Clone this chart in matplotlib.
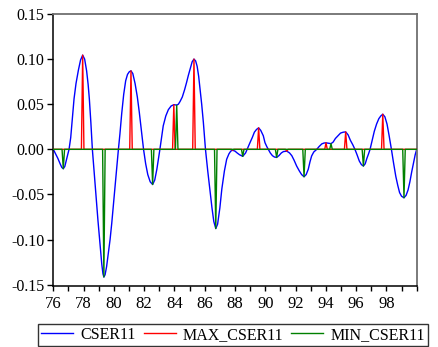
"""Recreate the CSER11 cycle chart with turning-point spikes."""

import matplotlib

matplotlib.use("Agg")
import matplotlib.pyplot as plt
from matplotlib.lines import Line2D
from matplotlib.ticker import FixedLocator, FuncFormatter, MultipleLocator

obs_dates = [
    1976.00, 1976.15, 1976.30, 1976.45, 1976.56, 1976.66, 1976.76, 1976.86, 1976.95, 1977.04,
    1977.15, 1977.26, 1977.37, 1977.50, 1977.66, 1977.80, 1977.94, 1978.07, 1978.20, 1978.30,
    1978.38, 1978.48, 1978.58, 1978.70, 1978.82, 1978.95, 1979.08, 1979.20, 1979.28, 1979.34,
    1979.42, 1979.52, 1979.63, 1979.75, 1979.86, 1979.96, 1980.06, 1980.16, 1980.30, 1980.40,
    1980.52, 1980.65, 1980.78, 1980.90, 1981.02, 1981.13, 1981.25, 1981.40, 1981.55, 1981.68,
    1981.82, 1981.96, 1982.10, 1982.24, 1982.40, 1982.56, 1982.70, 1982.84, 1982.95, 1983.04,
    1983.15, 1983.26, 1983.43, 1983.60, 1983.78, 1983.96, 1984.05, 1984.15, 1984.26, 1984.37,
    1984.52, 1984.67, 1984.80, 1984.92, 1985.05, 1985.17, 1985.29, 1985.40, 1985.50, 1985.60,
    1985.69, 1985.80, 1985.91, 1986.05, 1986.20, 1986.34, 1986.48, 1986.60, 1986.73, 1986.85,
    1987.00, 1987.13, 1987.30, 1987.45, 1987.60, 1987.72, 1987.84, 1988.00, 1988.14, 1988.30,
    1988.51, 1988.70, 1988.85, 1988.99, 1989.14, 1989.28, 1989.42, 1989.56, 1989.70, 1989.87,
    1989.98, 1990.10, 1990.20, 1990.33, 1990.47, 1990.60, 1990.75, 1990.90, 1991.06, 1991.20,
    1991.42, 1991.60, 1991.75, 1991.90, 1992.07, 1992.25, 1992.40, 1992.56, 1992.70, 1992.84,
    1992.95, 1993.06, 1993.20, 1993.40, 1993.55, 1993.73, 1993.88, 1994.01, 1994.15, 1994.34,
    1994.48, 1994.63, 1994.80, 1994.97, 1995.15, 1995.31, 1995.47, 1995.62, 1995.78, 1995.92,
    1996.06, 1996.21, 1996.35, 1996.48, 1996.60, 1996.71, 1996.82, 1996.92, 1997.06, 1997.20,
    1997.35, 1997.50, 1997.63, 1997.76, 1997.90, 1998.04, 1998.18, 1998.33, 1998.47, 1998.62,
    1998.75, 1998.87, 1999.00, 1999.16, 1999.30, 1999.43, 1999.55, 1999.67, 1999.80, 1999.90,
    2000.00,
]
cser11 = [
    0.000, -0.005, -0.010, -0.016, -0.020, -0.0215, -0.019, -0.012, -0.006, 0.000,
    0.013, 0.035, 0.056, 0.073, 0.088, 0.099, 0.1044, 0.100, 0.087, 0.072,
    0.056, 0.030, 0.000, -0.026, -0.052, -0.079, -0.104, -0.127, -0.138, -0.1415,
    -0.139, -0.130, -0.116, -0.100, -0.082, -0.063, -0.045, -0.026, 0.000, 0.017,
    0.040, 0.061, 0.076, 0.083, 0.086, 0.087, 0.084, 0.073, 0.058, 0.041,
    0.020, 0.000, -0.016, -0.028, -0.036, -0.039, -0.034, -0.022, -0.010, 0.000,
    0.013, 0.026, 0.037, 0.044, 0.048, 0.0495, 0.0493, 0.049, 0.050, 0.053,
    0.058, 0.066, 0.074, 0.082, 0.090, 0.097, 0.100, 0.098, 0.092, 0.081,
    0.067, 0.050, 0.030, 0.000, -0.024, -0.044, -0.065, -0.080, -0.0878, -0.083,
    -0.065, -0.044, -0.024, -0.011, -0.005, -0.002, -0.001, -0.002, -0.004, -0.006,
    -0.0078, -0.004, 0.002, 0.0074, 0.013, 0.019, 0.022, 0.0238, 0.021, 0.015,
    0.0074, 0.003, 0.000, -0.004, -0.007, -0.0085, -0.009, -0.007, -0.004, -0.0025,
    -0.002, -0.004, -0.007, -0.012, -0.0185, -0.024, -0.028, -0.0304, -0.028, -0.022,
    -0.014, -0.0074, -0.003, 0.000, 0.003, 0.006, 0.007, 0.0072, 0.0068, 0.0063,
    0.008, 0.012, 0.015, 0.018, 0.019, 0.0193, 0.016, 0.010, 0.005, 0.000,
    -0.006, -0.013, -0.017, -0.0185, -0.016, -0.010, -0.005, 0.000, 0.010, 0.020,
    0.028, 0.034, 0.037, 0.0389, 0.036, 0.028, 0.015, 0.000, -0.015, -0.030,
    -0.040, -0.048, -0.052, -0.0537, -0.051, -0.045, -0.036, -0.025, -0.014, -0.006,
    0.000,
]
assert len(obs_dates) == len(cser11)

# local maxima / minima (the MAX_ and MIN_ series are zero elsewhere)
max_dates = [1977.94, 1981.13, 1983.96, 1985.29, 1987.84, 1989.56,
             1991.42, 1994.01, 1995.31, 1997.76]
max_values = [0.1044, 0.087, 0.0495, 0.100, -0.001, 0.0238,
              -0.002, 0.0072, 0.0193, 0.0389]
min_dates = [1976.66, 1979.34, 1982.56, 1984.15, 1986.73, 1988.51,
             1990.75, 1992.56, 1994.34, 1996.48, 1999.16]
min_values = [-0.0215, -0.1415, -0.039, 0.049, -0.0878, -0.0078,
              -0.009, -0.0304, 0.0063, -0.0185, -0.0537]

year_labels = [str(y % 100) for y in range(1976, 2000, 2)]
series_names = ["CSER11", "MAX_CSER11", "MIN_CSER11"]

START, END = 1976.0, 2000.0
MONTH = 1.0 / 12.0


def spike_series(dates, values):
    """Monthly-style series: zero everywhere except the turning points."""
    xs, ys = [START], [0.0]
    for d, v in zip(dates, values):
        xs += [d - MONTH, d, d + MONTH]
        ys += [0.0, v, 0.0]
    xs.append(END)
    ys.append(0.0)
    return xs, ys


plt.rcParams["font.family"] = ["Liberation Serif", "DejaVu Serif"]
plt.rcParams["axes.unicode_minus"] = False

fig = plt.figure(figsize=(4.39, 3.47), dpi=100)
ax = fig.add_axes([53.3 / 439, 1 - 286 / 347, (416.7 - 53.3) / 439, (286 - 14) / 347])

ax.plot(obs_dates, cser11, color="#0000ff", lw=1.0, zorder=2)
mx, my = spike_series(max_dates, max_values)
ax.plot(mx, my, color="#ff0000", lw=1.0, zorder=3)
nx, ny = spike_series(min_dates, min_values)
ax.plot(nx, ny, color="#008000", lw=1.0, zorder=4)

ax.set_xlim(START, END)
ax.set_ylim(-0.1515, 0.15)

ax.xaxis.set_major_locator(FixedLocator(list(range(1976, 2000, 2))))
ax.xaxis.set_minor_locator(MultipleLocator(1))
ax.set_xticklabels(year_labels)
ax.yaxis.set_major_locator(MultipleLocator(0.05))
ax.yaxis.set_major_formatter(FuncFormatter(lambda v, _: f"{v:.2f}".replace("-0.00", "0.00")))

ax.tick_params(axis="x", which="both", direction="out", length=3.5, width=1,
               labelsize=12, pad=4, top=False)
ax.tick_params(axis="y", direction="out", length=4.5, width=1, labelsize=11.5,
               pad=2, right=False)

for side in ("left", "bottom"):
    ax.spines[side].set_color("black")
    ax.spines[side].set_linewidth(1.1)
for side in ("top", "right"):
    ax.spines[side].set_color("#707070")
    ax.spines[side].set_linewidth(1.3)

handles = [
    Line2D([], [], color="#0000ff", lw=1.0),
    Line2D([], [], color="#ff0000", lw=1.0),
    Line2D([], [], color="#008000", lw=1.0),
]
leg = fig.legend(
    handles, series_names,
    loc="lower left",
    bbox_to_anchor=(38 / 439, 1 / 347, 390 / 439, 22 / 347),
    mode="expand", ncol=3, fontsize=11.5,
    frameon=True, fancybox=False, shadow=False,
    handlelength=2.0, handletextpad=0.45, columnspacing=0.6,
    borderpad=0.2, borderaxespad=0,
)
leg.get_frame().set_edgecolor("black")
leg.get_frame().set_linewidth(1.0)

fig.savefig("out.png", dpi=100)
